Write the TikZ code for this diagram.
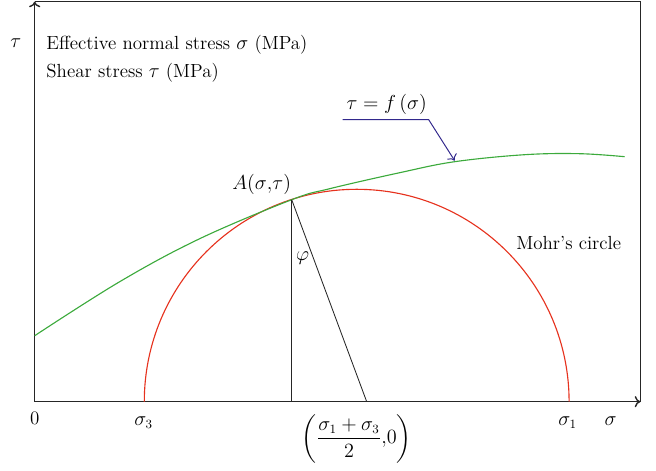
\documentclass[tikz,border=0pt]{standalone}
\usepackage{tikz}
\usepackage{amsmath}
\usetikzlibrary{arrows.meta}
\definecolor{envgreen}{RGB}{60,170,60}
\definecolor{mohrred}{RGB}{230,50,30}
\definecolor{pointblue}{RGB}{50,40,140}
\tikzset{
  lbl/.style={font=\fontsize{13.5}{16}\selectfont, inner sep=1pt},
  axisline/.style={draw=black!85, line width=1pt}
}
\begin{document}
\begin{tikzpicture}[x=0.25cm,y=0.25cm]
	\useasboundingbox (-3.47,-6.83) rectangle (62.13,40.17);

	% frame and axes
	\coordinate (O) at (0,0);
	\coordinate (xend) at (60.56,0);
	\coordinate (yend) at (0,40);
	\coordinate (corner) at (60.56,40);
	\draw [axisline,-{To[length=4pt,width=8pt]}] (O) -- (xend) ;
	\draw [axisline,-{To[length=4pt,width=8pt]}] (O) -- (yend) ;
	\draw [axisline] (yend) -- (corner) -- (xend) ;

	% mohr circle
	\coordinate (C) at (32.2,0);
	\coordinate (s3) at (10.96,0);
	\coordinate (s1) at (53.44,0);
	\draw [mohrred, thick] (s3) arc [start angle=180, end angle=0, radius=21.24];

	% envelope
	\draw [envgreen, thick] plot [smooth, tension=0.6] coordinates
		{(0,6.6) (8.5,12.0) (16.5,16.3) (25.7,20.2) (29.5,21.3) (36.5,22.9) (42,24.0) (49,24.7) (54.5,24.8) (59.0,24.5)};

	% point A and lines
	\coordinate (A) at (25.7,20.2);
	\coordinate (Afoot) at (25.7,0);
	\coordinate (M) at (33.2,0);
	\draw [black!85, line width=0.6pt] (A) -- (Afoot) ;
	\draw [black!85, line width=0.6pt] (A) -- (M) ;

	% arrow for envelope label
	\coordinate (b1) at (30.8,28.2);
	\coordinate (b2) at (39.4,28.2);
	\coordinate (b3) at (42.0,24.1);
	\draw [pointblue, line width=0.7pt, -{To[length=4pt,width=8pt]}] (b1) -- (b2) -- (b3) ;

	% text labels
	\node[lbl] (tau) at (-1.9,35.9) {$\tau$} ;
	\node[lbl, anchor=west] (leg1) at (1.0,35.7) {Effective normal stress $\sigma$ (MPa)} ;
	\node[lbl, anchor=west] (leg2) at (1.0,32.9) {Shear stress $\tau$ (MPa)} ;
	\node[lbl] (flabel) at (35.2,29.7) {$\tau=f\,(\sigma)$} ;
	\node[lbl] (mohr) at (53.4,15.9) {Mohr's circle} ;
	\node[lbl] (Alabel) at (22.7,21.7) {$A(\sigma{,}\tau)$} ;
	\node[lbl] (phi) at (26.8,14.4) {$\varphi$} ;

	% axis labels
	\node[lbl] (zero) at (0,-1.7) {0} ;
	\node[lbl] (ls3) at (10.9,-2.1) {$\sigma_3$} ;
	\node[lbl] (ls1) at (53.3,-2.1) {$\sigma_1$} ;
	\node[lbl] (lsig) at (57.6,-1.9) {$\sigma$} ;
	\node[lbl] (mid) at (32.2,-3.7) {$\left(\dfrac{\sigma_1+\sigma_3}{2}{,}0\right)$} ;
\end{tikzpicture}
\end{document}
